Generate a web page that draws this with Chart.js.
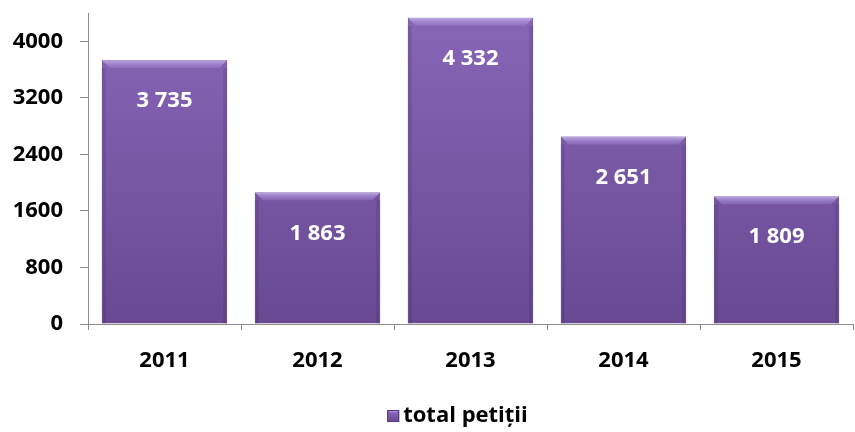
<!DOCTYPE html>
<html>
<head>
<meta charset="utf-8">
<script src="https://cdn.jsdelivr.net/npm/chart.js@4/dist/chart.umd.min.js"></script>
<style>
  html, body { margin: 0; padding: 0; background: #fff; }
  #wrap { width: 855px; height: 432px; }
</style>
</head>
<body>
<div id="wrap"><canvas id="chart" width="855" height="432"></canvas></div>
<script>
"use strict";

const YEARS = ["2011", "2012", "2013", "2014", "2015"];
const PETITII = [3735, 1863, 4332, 2651, 1809];
const SERIES_LABEL = "total petiții";
const Y_MAX = 4400;
const Y_TICKS = [0, 800, 1600, 2400, 3200, 4000];

const FONT = "'Open Sans', 'Noto Sans', sans-serif";
const AXIS = "#8c8c8c";
const fmt = (v) => String(v).replace(/\B(?=(\d{3})+(?!\d))/g, " ");

function barFill(ctx) {
  const area = ctx.chart.chartArea;
  if (!area) return "#7a58a8";
  const g = ctx.chart.ctx.createLinearGradient(0, area.top, 0, area.bottom);
  g.addColorStop(0, "#8866b8");
  g.addColorStop(1, "#684992");
  return g;
}

function bevelTop(c, l, r, y, b) {
  const g = c.createLinearGradient(0, y, 0, y + b);
  g.addColorStop(0, "rgba(205,185,240,0.8)");
  g.addColorStop(1, "rgba(160,130,210,0.35)");
  c.fillStyle = g;
  c.beginPath();
  c.moveTo(l, y); c.lineTo(r, y); c.lineTo(r - b, y + b); c.lineTo(l + b, y + b);
  c.closePath(); c.fill();
}

// bevel on top edge + value label inside each bar
const barDecor = {
  id: "barDecor",
  afterDatasetsDraw(chart) {
    const c = chart.ctx;
    chart.getDatasetMeta(0).data.forEach((bar, i) => {
      const { x, y, width } = bar.getProps(["x", "y", "width"], true);
      const l = x - width / 2, r = x + width / 2, b = 8;
      c.save();
      bevelTop(c, l, r, y, b);
      c.fillStyle = "rgba(60,35,95,0.18)";
      c.fillRect(l, y + b, 4, bar.base - y - b);
      c.fillRect(r - 4, y + b, 4, bar.base - y - b);
      c.fillStyle = "#ffffff";
      c.font = "bold 22px " + FONT;
      c.textAlign = "center";
      c.textBaseline = "middle";
      c.fillText(fmt(PETITII[i]), x, y + 41);
      c.restore();
    });
  },
};

// legend drawn under the plot, tight box/text gap like the original
const legendBelow = {
  id: "legendBelow",
  afterDraw(chart) {
    const c = chart.ctx;
    const a = chart.chartArea;
    c.save();
    c.font = "bold 22px " + FONT;
    const tw = c.measureText(SERIES_LABEL).width;
    const box = 12, gap = 4;
    const x0 = (a.left + a.right) / 2 - 13 - (box + gap + tw) / 2;
    const cy = 416;
    const g = c.createLinearGradient(0, cy - box / 2, 0, cy + box / 2);
    g.addColorStop(0, "#8e6cc0");
    g.addColorStop(1, "#654790");
    c.fillStyle = g;
    c.fillRect(x0, cy - box / 2, box, box);
    bevelTop(c, x0, x0 + box, cy - box / 2, 3);
    c.strokeStyle = "#4e3774";
    c.lineWidth = 1;
    c.strokeRect(x0 + 0.5, cy - box / 2 + 0.5, box - 1, box - 1);
    c.fillStyle = "#000";
    c.textAlign = "left";
    c.textBaseline = "middle";
    c.fillText(SERIES_LABEL, x0 + box + gap, cy);
    c.restore();
  },
};

new Chart(document.getElementById("chart"), {
  type: "bar",
  data: {
    labels: YEARS,
    datasets: [{
      label: SERIES_LABEL,
      data: PETITII,
      backgroundColor: barFill,
      borderColor: "#4e3774",
      borderWidth: 1,
      barPercentage: 0.82,
      categoryPercentage: 1,
    }],
  },
  options: {
    responsive: false,
    animation: false,
    layout: { padding: { top: 13, right: 2, bottom: 31, left: 0 } },
    scales: {
      x: {
        grid: { display: true, drawOnChartArea: false, offset: true, tickLength: 6, color: AXIS },
        border: { display: true, color: AXIS, width: 1 },
        ticks: { color: "#000", padding: 18, font: { family: FONT, size: 22, weight: "bold" } },
        afterFit: (s) => { s.height = 77; s.paddingLeft = 0; s.paddingRight = 0; },
      },
      y: {
        min: 0,
        max: Y_MAX,
        afterBuildTicks: (s) => { s.ticks = Y_TICKS.map((v) => ({ value: v })); },
        grid: { display: true, drawOnChartArea: false, tickLength: 8, color: AXIS },
        border: { display: true, color: AXIS, width: 1 },
        ticks: {
          autoSkip: false,
          color: "#000",
          padding: 17,
          font: { family: FONT, size: 22, weight: "bold" },
          callback: (v) => String(v),
        },
        afterFit: (s) => { s.width = 88; s.paddingTop = 0; s.paddingBottom = 0; },
      },
    },
    plugins: {
      legend: { display: false },
      tooltip: { enabled: false },
    },
  },
  plugins: [barDecor, legendBelow],
});
</script>
</body>
</html>
